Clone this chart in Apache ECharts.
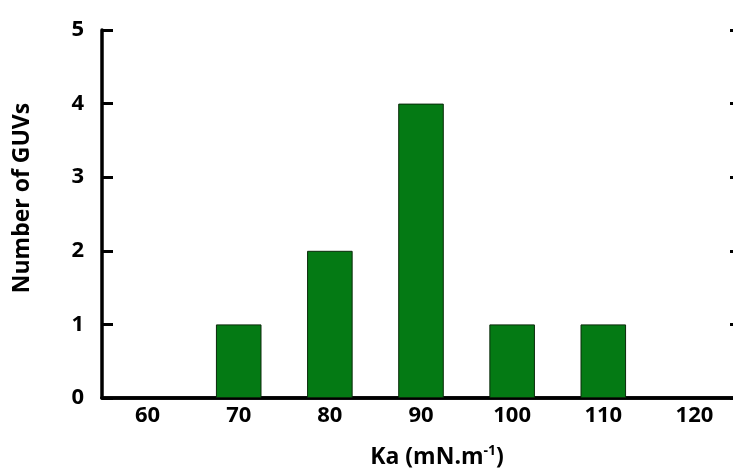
<!DOCTYPE html>
<html>
<head>
<meta charset="utf-8">
<script src="https://cdn.jsdelivr.net/npm/echarts@6/dist/echarts.min.js"></script>
<style>html,body{margin:0;padding:0;background:#fff}#c{width:733px;height:470px}</style>
</head>
<body>
<div id="c"></div>
<script>
var categories = ['60', '70', '80', '90', '100', '110', '120'];
var counts = [0, 1, 2, 4, 1, 1, 0];
var yTicks = [0, 1, 2, 3, 4, 5];

var font = '"Open Sans", "Liberation Sans", sans-serif';
var chart = echarts.init(document.getElementById('c'), null, {renderer: 'canvas'});
chart.setOption({
  animation: false,
  backgroundColor: '#fff',
  grid: {left: 102, right: -7, top: 30, bottom: 72, containLabel: false, outerBoundsMode: 'none'},
  xAxis: [{
    type: 'category',
    data: categories,
    position: 'bottom',
    axisLine: {lineStyle: {color: '#000', width: 3.5}},
    axisTick: {show: false},
    axisLabel: {color: '#000', fontFamily: font, fontWeight: 'bold', fontSize: 22, margin: 7},
    name: 'Ka (mN.m{sup|-1})',
    nameLocation: 'middle',
    nameGap: 46,
    nameTextStyle: {color: '#000', fontFamily: font, fontWeight: 'bold', fontSize: 23, padding: [0, 0, 0, 32],
      rich: {sup: {fontFamily: font, fontWeight: 'bold', fontSize: 14, verticalAlign: 'bottom', padding: [0, 0, 12, 0], color: '#000'}}}
  }, {
    type: 'category',
    data: categories,
    position: 'top',
    axisLine: {lineStyle: {color: '#000', width: 3.5}},
    axisTick: {show: false},
    axisLabel: {show: false}
  }],
  yAxis: [{
    type: 'value',
    min: 0, max: 5, interval: 1,
    position: 'left',
    splitLine: {show: false},
    axisLine: {show: true, lineStyle: {color: '#000', width: 3.5}},
    axisTick: {show: true, inside: true, length: 11, lineStyle: {color: '#000', width: 3}},
    axisLabel: {color: '#000', fontFamily: font, fontWeight: 'bold', fontSize: 22, margin: 18,
      formatter: function (v) { return yTicks.indexOf(v) >= 0 ? String(v) : ''; }},
    name: 'Number of GUVs',
    nameLocation: 'middle',
    nameGap: 68,
    nameTextStyle: {color: '#000', fontFamily: font, fontWeight: 'bold', fontSize: 23, padding: [0, 0, 0, 32]}
  }, {
    type: 'value',
    min: 0, max: 5, interval: 1,
    position: 'right',
    splitLine: {show: false},
    axisLine: {show: true, lineStyle: {color: '#000', width: 3.5}},
    axisTick: {show: true, inside: true, length: 10, lineStyle: {color: '#000', width: 3}},
    axisLabel: {show: false}
  }],
  series: [{
    type: 'bar',
    data: counts.map(function (v) { return v === 0 ? '-' : v; }),
    barWidth: '50%',
    itemStyle: {color: '#047a14', borderColor: '#0a2a0a', borderWidth: 1}
  }]
});
</script>
</body>
</html>
